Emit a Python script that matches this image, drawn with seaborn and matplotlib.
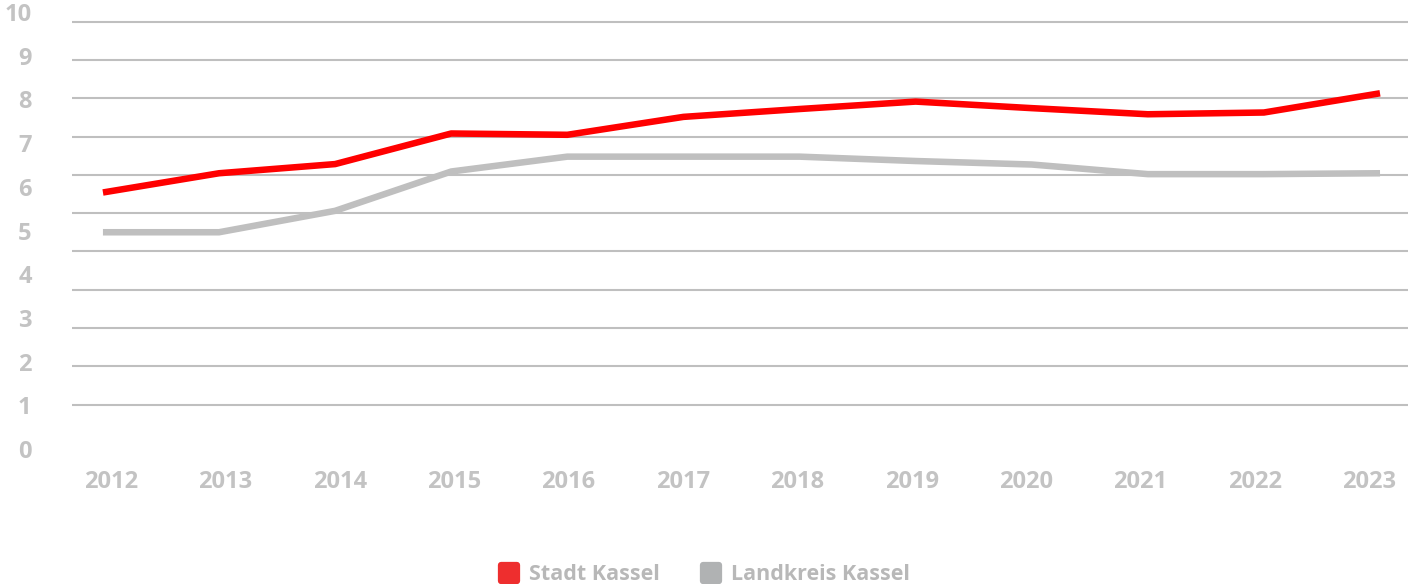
import pandas as pd
import numpy as np
import matplotlib.pyplot as plt
import seaborn as sns
from matplotlib.lines import Line2D
from matplotlib.markers import MarkerStyle


years = [2012, 2013, 2014, 2015, 2016, 2017, 2018, 2019, 2020, 2021, 2022, 2023]
stadt_kassel = [5.87, 6.31, 6.52, 7.22, 7.19, 7.60, 7.78, 7.95, 7.80, 7.66, 7.70, 8.14]
landkreis_kassel = [4.96, 4.96, 5.45, 6.35, 6.69, 6.69, 6.69, 6.59, 6.51, 6.29, 6.29, 6.31]
series_names = ['Stadt Kassel', 'Landkreis Kassel']
y_ticks = list(range(0, 11))

df = pd.DataFrame({
    'Jahr': years * 2,
    'Wert': stadt_kassel + landkreis_kassel,
    'Gebiet': [series_names[0]] * len(years) + [series_names[1]] * len(years),
})

line_colors = {'Stadt Kassel': '#ff0000', 'Landkreis Kassel': '#bfbfbf'}
legend_colors = ['#ee2e2e', '#b0b2b3']
label_color = '#c3c3c3'

sns.set_style("white")
plt.rcParams['font.family'] = ['Open Sans', 'DejaVu Sans']
plt.rcParams['font.weight'] = 'bold'

fig = plt.figure(figsize=(14.08, 5.84), dpi=100)
ax = fig.add_axes([0.0511, 0.2209, 0.9489, 0.762])

# gridlines live on their own scale behind the data
grid_ax = ax.twinx()
grid_ax.set_zorder(0)
ax.set_zorder(1)
ax.patch.set_visible(False)
grid_ax.set_ylim(-1.313, 10.305)
grid_ax.set_yticks(y_ticks)
grid_ax.grid(True, axis='y', color='#bfbfbf', linewidth=1.5)
grid_ax.tick_params(right=False, labelright=False)
for s in grid_ax.spines.values():
    s.set_visible(False)

sns.lineplot(data=df, x='Jahr', y='Wert', hue='Gebiet', palette=line_colors,
             linewidth=4.7, legend=False, ax=ax, solid_capstyle='butt')

ax.set_xlim(2011.733, 2023.241)
ax.set_ylim(-0.137, 10.046)
ax.set_xticks([])
ax.set_yticks(y_ticks)
ax.set_xlabel("")
ax.set_ylabel("")
ax.grid(False)
ax.tick_params(axis='y', length=0, pad=29, labelsize=17, labelcolor=label_color)
for s in ax.spines.values():
    s.set_visible(False)

# year labels sit on a slightly tighter spacing than the data points
def to_label(x):
    return 2012 + ((np.asarray(x) - 2012) * 116.1 - 8) / 114.4

def from_label(x):
    return 2012 + ((np.asarray(x) - 2012) * 114.4 + 8) / 116.1

sec = ax.secondary_xaxis('bottom', functions=(to_label, from_label))
sec.set_xticks(years)
sec.set_xticklabels([str(y) for y in years])
sec.tick_params(length=0, pad=11, labelsize=17, labelcolor=label_color)
for s in sec.spines.values():
    s.set_visible(False)

handles = [Line2D([], [], linestyle='none',
                  marker=MarkerStyle('s', joinstyle='round'),
                  markersize=12, markeredgewidth=4.5,
                  markerfacecolor=c, markeredgecolor=c)
           for c in legend_colors]
fig.legend(handles, series_names, loc='center', bbox_to_anchor=(0.5, 9 / 584),
           ncol=2, frameon=False, fontsize=15.5, labelcolor='#b8b8b8',
           handlelength=1.0, handletextpad=0.4, columnspacing=1.9)

plt.savefig("out.png", dpi=100)
